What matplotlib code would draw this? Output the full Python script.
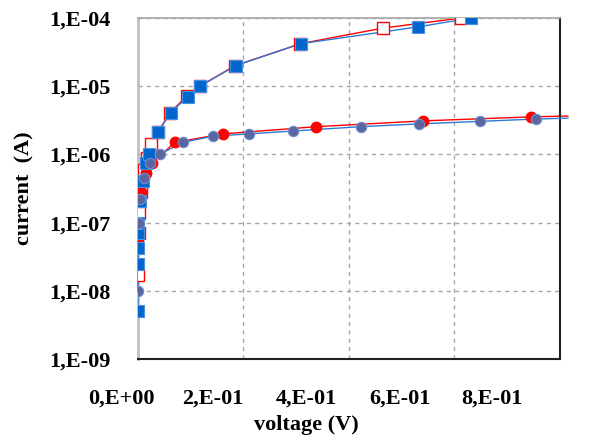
import matplotlib
matplotlib.use("Agg")
import matplotlib.pyplot as plt

plt.rcParams["font.family"] = ["Liberation Serif", "DejaVu Serif"]
plt.rcParams["font.weight"] = "bold"

# serie 1 - quadrados azuis (curva de cima)
v_sq_blue = [0.0, 0.0, 0.0, 0.0005, 0.0008, 0.004, 0.010, 0.015, 0.021, 0.0375, 0.062, 0.094, 0.118, 0.185, 0.309, 0.531, 0.632]
i_sq_blue = [5.0e-9, 2.5e-8, 4.2e-8, 7.1e-8, 1.0e-7, 2.1e-7, 4.1e-7, 7.4e-7, 1.0e-6, 2.1e-6, 4.1e-6, 7.0e-6, 1.0e-5, 2.0e-5, 4.2e-5, 7.4e-5, 1.0e-4]

# serie 2 - quadrados vermelhos vazados
v_sq_red = [0.0, 0.001, 0.002, 0.006, 0.012, 0.018, 0.025, 0.037, 0.061, 0.092, 0.117, 0.184, 0.308, 0.464, 0.613]
i_sq_red = [1.7e-8, 7.0e-8, 1.4e-7, 2.8e-7, 5.9e-7, 9.0e-7, 1.4e-6, 2.1e-6, 4.1e-6, 7.1e-6, 1.0e-5, 2.0e-5, 4.2e-5, 7.1e-5, 1.0e-4]

# serie 3 - circulos vermelhos (curva de baixo)
v_ci_red = [0.0, 0.006, 0.015, 0.026, 0.070, 0.162, 0.338, 0.540, 0.745, 0.815]
i_ci_red = [5.2e-8, 2.8e-7, 5.3e-7, 7.4e-7, 1.5e-6, 2.0e-6, 2.55e-6, 3.1e-6, 3.55e-6, 3.65e-6]

# serie 4 - circulos azul-acinzentados
v_ci_blue = [0.0, 0.001, 0.004, 0.012, 0.022, 0.041, 0.085, 0.143, 0.210, 0.293, 0.422, 0.532, 0.648, 0.754, 0.815]
i_ci_blue = [1.0e-8, 1.0e-7, 2.2e-7, 4.5e-7, 7.5e-7, 1.0e-6, 1.5e-6, 1.85e-6, 2.0e-6, 2.2e-6, 2.55e-6, 2.8e-6, 3.05e-6, 3.3e-6, 3.4e-6]

y_ticks = [1e-9, 1e-8, 1e-7, 1e-6, 1e-5, 1e-4]
y_labels = ["1,E-09", "1,E-08", "1,E-07", "1,E-06", "1,E-05", "1,E-04"]
x_ticks = [0.0, 0.2, 0.4, 0.6, 0.8]
x_labels = ["0,E+00", "2,E-01", "4,E-01", "6,E-01", "8,E-01"]
x_label_pos = [-0.040, 0.178, 0.400, 0.621, 0.839]

fig = plt.figure(figsize=(5.93, 4.44), dpi=100)
ax = fig.add_axes([0.2327, 0.1914, 0.7116, 0.7681])

blue = "#0066CC"
slate = "#5B66A0"
red = "#FF0000"

# linhas (podem passar um pouco da borda direita)
ax.plot(v_sq_red, i_sq_red, color=red, lw=1.0, zorder=2)
ax.plot(v_ci_red, i_ci_red, color=red, lw=1.0, zorder=2, clip_on=False)
ax.plot(v_sq_blue, i_sq_blue, color="#2E7BD6", lw=1.0, zorder=3)
ax.plot(v_ci_blue, i_ci_blue, color="#2E7BD6", lw=1.0, zorder=3, clip_on=False)

# marcadores
ax.plot(v_sq_red, i_sq_red, ls="none", marker="s", ms=8.5, mfc="white", mec=red, mew=1.0, zorder=4)
ax.plot(v_ci_red[:-1], i_ci_red[:-1], ls="none", marker="o", ms=7.5, mfc=red, mec=red, zorder=5)
ax.plot(v_sq_blue, i_sq_blue, ls="none", marker="s", ms=8.5, mfc=blue, mec="#4A8FE0", mew=0.8, zorder=6)
ax.plot(v_ci_blue[:-1], i_ci_blue[:-1], ls="none", marker="o", ms=7.5, mfc=slate, mec="#6F8FD0", mew=0.8, zorder=7)

ax.set_yscale("log")
ax.set_ylim(1e-9, 1e-4)
ax.set_xlim(0, 0.8)
ax.set_yticks(y_ticks)
ax.set_yticklabels(y_labels)
ax.minorticks_off()
ax.set_xticks(x_ticks)
ax.set_xticklabels([])
ax.tick_params(axis="both", length=0, labelsize=16)
ax.tick_params(axis="y", pad=20)

for lab, pos in zip(x_labels, x_label_pos):
    ax.text(pos, -0.115, lab, transform=ax.transAxes, ha="center", va="center",
            fontsize=16, fontweight="bold")

ax.grid(True, color="#A6A6A6", ls=(0, (3, 3)), lw=1.0)
ax.spines["left"].set_color("#BFBFBF")
ax.spines["left"].set_linewidth(2)
ax.spines["top"].set_color("#A6A6A6")
ax.spines["top"].set_linewidth(1.2)
ax.spines["right"].set_color("#222222")
ax.spines["right"].set_linewidth(1.5)
ax.spines["bottom"].set_color("#222222")
ax.spines["bottom"].set_linewidth(1.5)

ax.set_xlabel("voltage (V)", fontsize=16, fontweight="bold")
ax.xaxis.set_label_coords(0.40, -0.165)
ax.set_ylabel("current  (A)", fontsize=16, fontweight="bold")
ax.yaxis.set_label_coords(-0.245, 0.5)

fig.savefig("out.png", dpi=100)
